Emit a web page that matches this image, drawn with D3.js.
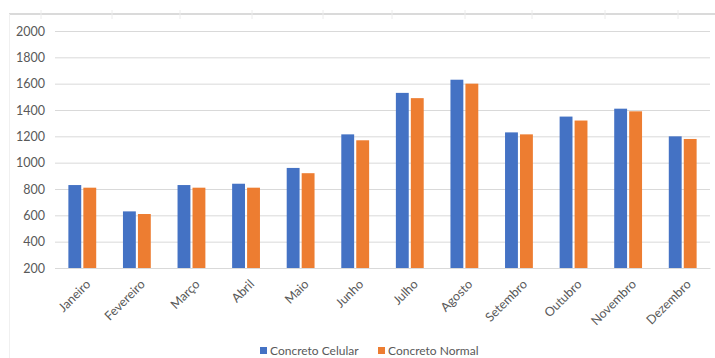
<!DOCTYPE html>
<html>
<head>
<meta charset="utf-8">
<script src="https://cdn.jsdelivr.net/npm/d3@7"></script>
<style>
  html, body { margin: 0; padding: 0; background: #fff; }
  svg { display: block; }
  text { font-family: Lato, "Open Sans", sans-serif; fill: #595959; }
</style>
</head>
<body>
<script>
// Monthly figures for the two concrete types
const months = ["Janeiro", "Fevereiro", "Março", "Abril", "Maio", "Junho",
                "Julho", "Agosto", "Setembro", "Outubro", "Novembro", "Dezembro"];
const seriesNames = ["Concreto Celular", "Concreto Normal"];
const concretoCelular = [830, 630, 830, 840, 960, 1215, 1530, 1630, 1230, 1350, 1410, 1200];
const concretoNormal  = [810, 610, 810, 810, 920, 1170, 1490, 1600, 1215, 1320, 1390, 1180];
const yTicks = [200, 400, 600, 800, 1000, 1200, 1400, 1600, 1800, 2000];
const colors = ["#4472C4", "#ED7D31"];

const W = 715, H = 358;
const plot = { left: 55, right: 710, top: 31, bottom: 268 };

const svg = d3.select("body").append("svg")
  .attr("width", W).attr("height", H);

// sheet frame: top rule with column marks and a faint left edge
svg.append("line")
  .attr("x1", 9).attr("x2", W).attr("y1", 14).attr("y2", 14)
  .attr("stroke", "#dadada").attr("stroke-width", 2);
const colMarks = [41, 112, 180, 252, 323, 392, 465, 532, 605, 678];
svg.selectAll("line.colmark").data(colMarks).enter().append("line")
  .attr("class", "colmark")
  .attr("x1", d => d).attr("x2", d => d).attr("y1", 10).attr("y2", 19)
  .attr("stroke", "#ececec").attr("stroke-width", 1);
svg.append("line")
  .attr("x1", 9.5).attr("x2", 9.5).attr("y1", 14).attr("y2", H)
  .attr("stroke", "#f0f0f0").attr("stroke-width", 1);

const y = d3.scaleLinear().domain([200, 2000]).range([plot.bottom, plot.top]);

const x0 = d3.scaleBand().domain(months)
  .range([plot.left, plot.right])
  .paddingInner(0.49).paddingOuter(0.245);
const x1 = d3.scaleBand().domain(seriesNames)
  .range([0, x0.bandwidth()]).paddingInner(0.14);

// horizontal gridlines
const yAxis = d3.axisLeft(y).tickValues(yTicks).tickFormat(d3.format("d"))
  .tickSize(-(plot.right - plot.left)).tickPadding(10);
const gy = svg.append("g").attr("transform", `translate(${plot.left},0)`).call(yAxis);
gy.select(".domain").remove();
gy.selectAll(".tick line").attr("stroke", "#d9d9d9").attr("stroke-width", 1);
gy.selectAll(".tick text").attr("font-size", 12.5).style("fill", "#595959");

// bars
const rows = months.map((m, i) => ({ month: m, values: [concretoCelular[i], concretoNormal[i]] }));
const groups = svg.append("g").selectAll("g").data(rows).enter().append("g")
  .attr("transform", d => `translate(${x0(d.month)},0)`);
groups.selectAll("rect")
  .data(d => d.values.map((v, k) => ({ key: seriesNames[k], value: v, k })))
  .enter().append("rect")
  .attr("x", d => x1(d.key))
  .attr("width", x1.bandwidth())
  .attr("y", d => y(d.value))
  .attr("height", d => y(200) - y(d.value))
  .attr("fill", d => colors[d.k]);

// category axis with rotated labels
const xAxis = d3.axisBottom(x0).tickSize(0).tickPadding(0);
const gx = svg.append("g").attr("transform", `translate(0,${plot.bottom})`).call(xAxis);
gx.select(".domain").attr("stroke", "#d9d9d9");
gx.selectAll(".tick text")
  .attr("font-size", 12.5)
  .style("fill", "#595959")
  .attr("text-anchor", "end")
  .attr("dy", 0)
  .attr("transform", "translate(9,17) rotate(-45)");

// legend
const legend = svg.append("g");
const legendX = [260, 378];
seriesNames.forEach((name, k) => {
  legend.append("rect")
    .attr("x", legendX[k]).attr("y", 347)
    .attr("width", 7).attr("height", 7)
    .attr("fill", colors[k]);
  legend.append("text")
    .attr("x", legendX[k] + 10).attr("y", 355)
    .attr("font-size", 12)
    .text(name);
});
</script>
</body>
</html>
